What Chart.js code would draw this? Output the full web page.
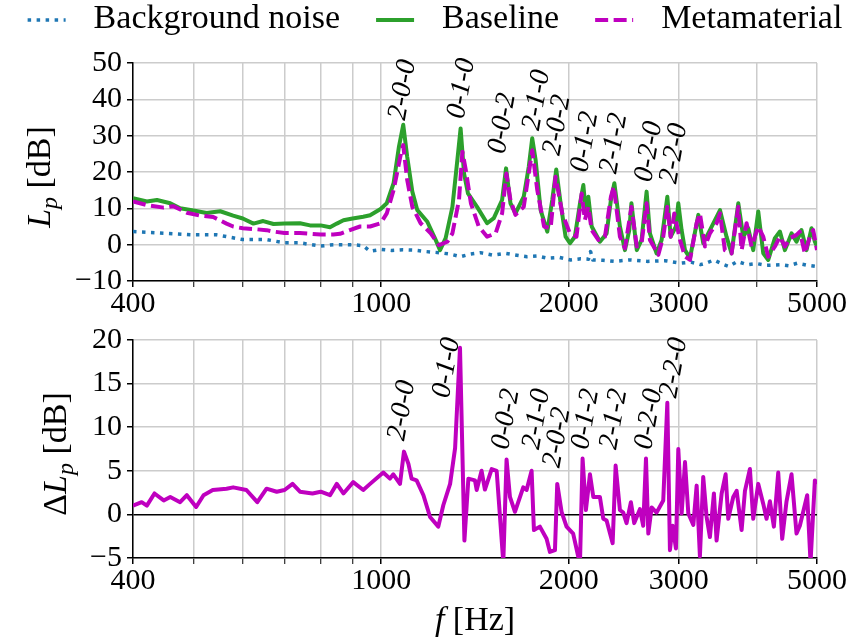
<!DOCTYPE html>
<html>
<head>
<meta charset="utf-8">
<script src="https://cdn.jsdelivr.net/npm/chart.js@4.4.1/dist/chart.umd.min.js"></script>
<style>
  html, body { margin: 0; padding: 0; background: #fff; }
  #wrap { position: relative; width: 857px; height: 642px; }
  canvas { position: absolute; left: 0; }
  #top { top: 0; }
  #bottom { top: 320px; }
</style>
</head>
<body>
<div id="wrap">
  <canvas id="top" width="857" height="320"></canvas>
  <canvas id="bottom" width="857" height="322"></canvas>
</div>
<script>
// --- data ---
const noiseFreq = [400, 453, 500, 545, 600, 655, 700, 741, 800, 838,
  900, 936, 960, 1000, 1040, 1083, 1129, 1180, 1238, 1290,
  1341, 1390, 1443, 1510, 1582, 1650, 1714, 1780, 1847, 1930,
  2013, 2090, 2150, 2167, 2185, 2270, 2362, 2500, 2671, 2850,
  3021, 3140, 3252, 3330, 3417, 3520, 3612, 3725, 3865, 4000,
  4150, 4372, 4500, 4647, 4800, 5000];
const noiseLevel = [3.6, 3.1, 2.7, 2.7, 1.4, 1.4, 0.5, 0.5, -0.4, 0.0,
  0.0, -0.3, -1.8, -1.3, -1.6, -1.4, -1.5, -1.9, -2.2, -2.6,
  -3.3, -2.6, -2.2, -2.9, -2.4, -2.9, -3.3, -3.1, -3.7, -3.5,
  -4.2, -3.9, -4.0, -1.9, -4.2, -4.3, -4.6, -4.2, -4.6, -4.4,
  -5.1, -4.8, -5.5, -5.0, -4.2, -5.3, -6.0, -4.6, -5.5, -5.2,
  -5.7, -5.5, -5.8, -5.1, -5.6, -6.0];

const baselineFreq = [400, 421, 437, 459, 476, 500, 525, 552, 579, 600,
  624, 647, 672, 700, 741, 769, 800, 828, 849, 870,
  900, 936, 960, 998, 1021, 1047, 1068, 1085, 1101, 1122,
  1143, 1186, 1223, 1243, 1269, 1301, 1325, 1341, 1358, 1378,
  1425, 1479, 1516, 1563, 1586, 1612, 1642, 1693, 1725, 1747,
  1769, 1802, 1847, 1881, 1909, 1940, 1976, 2008, 2045, 2084,
  2110, 2130, 2149, 2176, 2243, 2299, 2336, 2366, 2415, 2460,
  2500, 2520, 2570, 2616, 2665, 2698, 2765, 2817, 2877, 2913,
  2970, 2996, 3033, 3071, 3128, 3226, 3285, 3367, 3495, 3580,
  3647, 3739, 3808, 3879, 3951, 4025, 4100, 4176, 4280, 4360,
  4441, 4551, 4636, 4722, 4810, 4900, 4961, 5000];
const baselineLevel = [12.8, 11.9, 12.3, 11.4, 10.0, 9.4, 8.7, 9.2, 8.0, 7.2,
  5.8, 6.5, 5.7, 5.8, 5.9, 5.3, 5.3, 4.8, 5.8, 6.7,
  7.2, 7.7, 8.1, 9.8, 11.4, 16.9, 27.0, 33.0, 24.2, 14.6,
  9.5, 6.3, 1.3, -1.5, 1.8, 10.4, 23.3, 32.0, 19.6, 14.1,
  10.4, 5.9, 7.3, 12.3, 21.0, 11.4, 8.6, 13.2, 21.5, 29.3,
  23.3, 9.5, 3.6, 12.3, 20.7, 11.4, 2.2, 0.4, 2.2, 11.4,
  16.4, 8.6, 13.2, 5.0, 0.8, 3.1, 12.3, 16.9, 5.0, -1.5,
  4.0, 11.4, -1.5, 1.3, 14.6, 3.1, -2.4, 1.3, 13.2, 2.2,
  5.0, 11.4, 4.0, -1.5, -3.7, 8.2, 0.4, 4.0, 9.5, 2.2,
  -2.4, 11.4, 2.2, 4.5, -1.5, 9.1, -2.4, -4.2, 1.8, 3.6,
  -1.5, 3.1, 0.8, 4.0, -1.5, 4.5, 0.8, -0.5];

const metaFreq = [400, 421, 448, 464, 488, 512, 538, 565, 579, 600,
  624, 655, 672, 700, 741, 769, 800, 838, 859, 891,
  925, 960, 998, 1021, 1047, 1076, 1085, 1101, 1122, 1157,
  1201, 1238, 1277, 1301, 1333, 1350, 1367, 1393, 1434, 1479,
  1526, 1563, 1588, 1612, 1642, 1693, 1747, 1780, 1825, 1870,
  1904, 1952, 2008, 2057, 2097, 2122, 2149, 2176, 2230, 2285,
  2336, 2361, 2415, 2460, 2520, 2570, 2616, 2665, 2698, 2783,
  2834, 2877, 2913, 2952, 3015, 3071, 3128, 3206, 3245, 3306,
  3367, 3451, 3495, 3558, 3647, 3739, 3785, 3855, 3927, 4025,
  4100, 4176, 4280, 4360, 4441, 4523, 4636, 4693, 4780, 4870,
  4930, 5000];
const metaLevel = [11.9, 10.9, 10.2, 10.6, 8.8, 8.0, 7.6, 5.8, 5.0, 4.5,
  4.3, 4.0, 3.6, 3.2, 3.2, 3.0, 2.8, 2.8, 3.0, 4.0,
  5.0, 5.0, 5.9, 8.6, 15.0, 25.1, 27.4, 17.8, 10.4, 5.9,
  3.1, -0.1, 0.8, 3.1, 12.3, 25.6, 20.5, 11.4, 5.0, 2.2,
  3.1, 8.6, 19.6, 12.3, 8.2, 10.4, 26.0, 15.0, 5.0, 4.5,
  18.7, 8.6, 3.1, 2.2, 14.1, 6.8, 10.4, 4.0, 1.3, 2.2,
  13.2, 16.0, 2.2, -1.0, 10.4, -0.5, 0.4, 11.4, 1.3, -2.8,
  2.2, 10.4, 2.2, 8.6, 1.3, -3.3, -4.2, 5.9, 8.6, -0.5,
  3.1, 5.9, 8.6, -1.5, -2.4, 10.4, -1.5, 5.9, -0.5, 5.0,
  2.2, -3.3, -0.5, 2.2, -0.5, 1.8, 2.7, 3.6, -2.4, 2.2,
  4.0, -1.5];

const deltaFreq = [400, 413, 421, 433, 448, 459, 476, 488, 505, 519,
  537, 565, 579, 608, 633, 655, 680, 700, 721, 741,
  776, 800, 828, 849, 870, 902, 936, 960, 1008, 1033,
  1046, 1072, 1088, 1106, 1119, 1140, 1169, 1198, 1235, 1258,
  1290, 1314, 1338, 1360, 1380, 1414, 1423, 1449, 1467, 1504,
  1532, 1570, 1589, 1609, 1639, 1690, 1711, 1743, 1758, 1797,
  1842, 1865, 1900, 1916, 1947, 1983, 2032, 2070, 2084, 2104,
  2130, 2162, 2189, 2243, 2271, 2299, 2351, 2377, 2415, 2445,
  2475, 2515, 2546, 2600, 2632, 2659, 2682, 2715, 2765, 2834,
  2877, 2905, 2934, 2970, 2996, 3033, 3071, 3109, 3167, 3206,
  3245, 3285, 3326, 3367, 3417, 3451, 3516, 3568, 3603, 3670,
  3716, 3785, 3832, 3903, 3951, 4025, 4100, 4150, 4202, 4264,
  4333, 4397, 4468, 4551, 4636, 4693, 4822, 4882, 4961, 5000];
const deltaLevel = [1.0, 1.4, 1.0, 2.4, 1.6, 2.0, 1.4, 2.2, 0.85, 2.2,
  2.8, 2.95, 3.1, 2.8, 1.4, 2.95, 2.6, 2.8, 3.5, 2.6,
  2.4, 2.6, 2.2, 3.5, 2.4, 3.7, 2.8, 3.5, 4.8, 4.1,
  4.6, 3.5, 7.2, 5.8, 4.1, 3.9, 2.2, -0.3, -1.4, 1.05,
  3.5, 7.6, 19.1, -3.0, 4.1, 3.9, 2.8, 5.0, 2.85, 5.2,
  5.0, -5.5, 6.3, 2.0, 0.3, 3.1, 2.8, 5.0, -1.8, -1.4,
  -2.8, -4.3, -4.1, 3.5, 0.3, -1.4, -2.2, -4.8, -5.5, 6.4,
  0.5, 4.6, 2.0, 2.0, -0.5, -0.7, -3.3, 5.6, 0.5, 0.2,
  -1.0, 1.4, -1.0, 0.6, -1.3, 6.4, -2.2, 0.8, 0.2, 1.6,
  12.8, -4.1, -1.3, -3.9, 7.5, 0.1, 6.0, 0.1, -1.2, 3.3,
  -4.8, 4.3, -0.3, -2.6, 2.4, -3.0, 2.4, 4.6, -0.5, 2.0,
  2.7, -1.8, 2.7, 5.2, -0.5, 3.5, 1.2, -0.5, 1.5, -1.4,
  4.8, -2.8, 1.5, 4.6, -2.2, -1.3, 2.2, -5.5, 3.9, 3.5];

// mode labels and where they sit (bottom of the rotated text)
const modeLabels = ['2-0-0', '0-1-0', '0-0-2', '2-1-0', '2-0-2', '0-1-2', '2-1-2', '0-2-0', '2-2-0'];
const modeFreqTop = [1083, 1346, 1565, 1776, 1916, 2123, 2363, 2689, 2949];
const modeLevelTop = [33.9, 34.3, 24.7, 31.1, 24.2, 19.6, 19.2, 16.9, 16.4];
const modeFreqBottom = [1080, 1274, 1586, 1776, 1916, 2128, 2363, 2689, 2949];
const modeLevelBottom = [8.3, 13.2, 7.3, 7.3, 5.2, 7.3, 7.3, 7.3, 13.2];

const xTicks = [400, 500, 600, 700, 800, 900, 1000, 2000, 3000, 4000, 5000];
const xTickLabels = [400, 1000, 2000, 3000, 5000];

const SERIF = '"Liberation Serif", "DejaVu Serif", serif';
const GRID = '#cccccc';

const toPoints = (xs, ys) => xs.map((x, i) => ({ x, y: ys[i] }));

const xScale = (height) => ({
  type: 'logarithmic',
  min: 400,
  max: 5000,
  afterBuildTicks: (s) => { s.ticks = xTicks.map((v) => ({ value: v })); },
  afterFit: (s) => { s.height = height; },
  ticks: {
    autoSkip: false, maxRotation: 0, minRotation: 0, padding: 2, color: '#000',
    font: { family: SERIF, size: 30, lineHeight: 1 },
    callback: (v) => (xTickLabels.includes(v) ? String(v) : ''),
  },
  grid: {
    color: GRID, lineWidth: 1.5, tickLength: 6, tickColor: '#000',
    tickWidth: (c) => (c.tick && xTickLabels.includes(c.tick.value) ? 1.5 : 1),
  },
  border: { color: '#000', width: 1.5 },
});

const yScale = (min, max, step, zeroLine) => ({
  min, max,
  afterFit: (s) => { s.width = 133; },
  ticks: {
    stepSize: step, padding: 5, color: '#000',
    font: { family: SERIF, size: 30, lineHeight: 1 },
    callback: (v) => String(v).replace('-', '\u2212'),
  },
  grid: {
    color: (c) => (zeroLine && c.tick && c.tick.value === 0 ? '#000' : GRID),
    lineWidth: 1.5, tickLength: 6, tickColor: '#000',
  },
  border: { color: '#000', width: 1.5 },
});

// text made of pieces in different styles (italic symbol, subscript...)
const drawPieces = (ctx, pieces, x, y, angle) => {
  ctx.save();
  ctx.translate(x, y);
  ctx.rotate(angle);
  ctx.fillStyle = '#000';
  ctx.textBaseline = 'alphabetic';
  ctx.textAlign = 'left';
  let total = 0;
  const widths = pieces.map(([t, style, size]) => {
    ctx.font = `${style} ${size}px ${SERIF}`;
    const w = ctx.measureText(t).width;
    total += w;
    return w;
  });
  let cx = -total / 2;
  pieces.forEach(([t, style, size, shift], i) => {
    ctx.font = `${style} ${size}px ${SERIF}`;
    ctx.fillText(t, cx, shift);
    cx += widths[i];
  });
  ctx.restore();
};

const modes = {
  id: 'modes',
  afterDraw(chart, args, opts) {
    const { ctx } = chart;
    const x = chart.scales.x;
    const y = chart.scales.y;
    const a = 80 * Math.PI / 180;
    ctx.save();
    ctx.fillStyle = '#000';
    ctx.font = `italic 28px ${SERIF}`;
    ctx.textAlign = 'center';
    ctx.textBaseline = 'middle';
    opts.freqs.forEach((f, i) => {
      const w = ctx.measureText(modeLabels[i]).width;
      const boxH = w * Math.sin(a) + 20 * Math.cos(a);
      ctx.save();
      ctx.translate(x.getPixelForValue(f), y.getPixelForValue(opts.levels[i]) - boxH / 2);
      ctx.rotate(-a);
      ctx.fillText(modeLabels[i], 0, 0);
      ctx.restore();
    });
    ctx.restore();
  },
};

const titles = {
  id: 'titles',
  afterDraw(chart, args, opts) {
    const { ctx } = chart;
    if (opts.y) drawPieces(ctx, opts.y.pieces, opts.y.x, opts.y.y, -Math.PI / 2);
    if (opts.x) drawPieces(ctx, opts.x.pieces, opts.x.x, opts.x.y, 0);
  },
};

const legendLines = {
  id: 'legendLines',
  afterDraw(chart) {
    const { ctx } = chart;
    const sets = chart.data.datasets;
    const sample = 38, gapText = 28, gapItem = 36, yy = 20;
    ctx.save();
    ctx.font = `34px ${SERIF}`;
    const widths = sets.map((d) => ctx.measureText(d.label).width);
    const total = widths.reduce((s, w) => s + w, 0) + sets.length * (sample + gapText) + (sets.length - 1) * gapItem;
    let cx = 435 - total / 2;
    sets.forEach((d, i) => {
      ctx.strokeStyle = d.borderColor;
      ctx.lineWidth = d.borderWidth;
      ctx.setLineDash(d.borderDash || []);
      ctx.beginPath();
      ctx.moveTo(cx, yy);
      ctx.lineTo(cx + sample, yy);
      ctx.stroke();
      cx += sample + gapText;
      ctx.fillStyle = '#000';
      ctx.textBaseline = 'middle';
      ctx.fillText(d.label, cx, yy - 1);
      cx += widths[i] + gapItem;
    });
    ctx.restore();
  },
};

const common = {
  responsive: false,
  animation: false,
  devicePixelRatio: 1,
  elements: { point: { radius: 0 }, line: { tension: 0, borderJoinStyle: 'round' } },
};

new Chart(document.getElementById('top'), {
  type: 'line',
  data: {
    datasets: [
      {
        label: 'Background noise', data: toPoints(noiseFreq, noiseLevel),
        borderColor: '#1f77b4', borderWidth: 3.5, borderDash: [3.5, 5.5], order: 3,
      },
      {
        label: 'Baseline', data: toPoints(baselineFreq, baselineLevel),
        borderColor: '#2ca02c', borderWidth: 4, order: 2,
      },
      {
        label: 'Metamaterial', data: toPoints(metaFreq, metaLevel),
        borderColor: '#bf00bf', borderWidth: 4, borderDash: [13, 5.5], order: 1,
      },
    ],
  },
  options: {
    ...common,
    layout: { padding: { top: 63, right: 40, left: 0, bottom: 0 } },
    scales: { x: xScale(39), y: yScale(-10, 50, 10, false) },
    plugins: {
      legend: { display: false },
      tooltip: { enabled: false },
      modes: { freqs: modeFreqTop, levels: modeLevelTop },
      titles: {
        y: { x: 50, y: 177, pieces: [['L', 'italic', 34, 0], ['p', 'italic', 24, 7], [' [dB]', 'normal', 34, 0]] },
      },
    },
  },
  plugins: [modes, titles, legendLines],
});

new Chart(document.getElementById('bottom'), {
  type: 'line',
  data: {
    datasets: [
      {
        label: 'Difference', data: toPoints(deltaFreq, deltaLevel),
        borderColor: '#bf00bf', borderWidth: 4,
      },
    ],
  },
  options: {
    ...common,
    layout: { padding: { top: 19, right: 40, left: 0, bottom: 0 } },
    scales: { x: xScale(84), y: yScale(-5, 20, 5, true) },
    plugins: {
      legend: { display: false },
      tooltip: { enabled: false },
      modes: { freqs: modeFreqBottom, levels: modeLevelBottom },
      titles: {
        y: { x: 66, y: 134, pieces: [['\u0394', 'normal', 34, 0], ['L', 'italic', 34, 0], ['p', 'italic', 24, 7], [' [dB]', 'normal', 34, 0]] },
        x: { x: 475, y: 310, pieces: [['f', 'italic', 34, 0], [' [Hz]', 'normal', 34, 0]] },
      },
    },
  },
  plugins: [modes, titles],
});
</script>
</body>
</html>
